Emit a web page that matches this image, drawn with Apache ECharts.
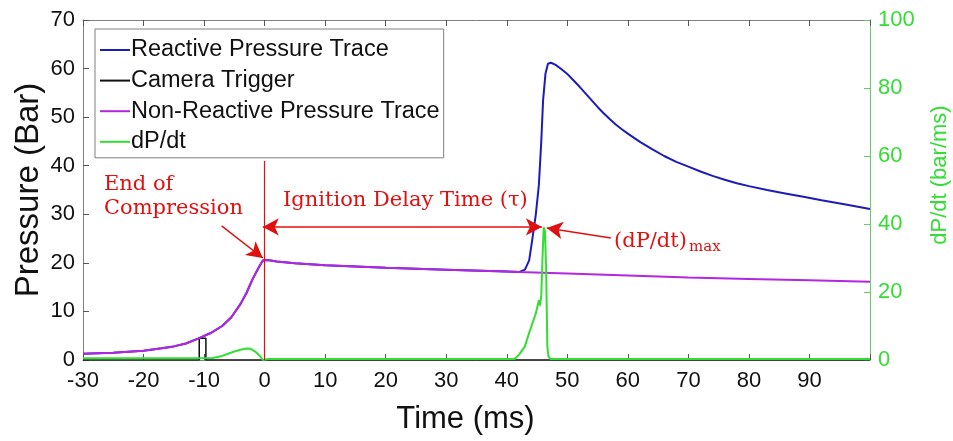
<!DOCTYPE html>
<html>
<head>
<meta charset="utf-8">
<script src="https://cdn.jsdelivr.net/npm/echarts@6/dist/echarts.min.js"></script>
<style>html,body{margin:0;padding:0;background:#fff;}#c{width:953px;height:441px;}</style>
</head>
<body>
<div id="c"></div>
<script>
// ---- data ----
var xTicks = [-30, -20, -10, 0, 10, 20, 30, 40, 50, 60, 70, 80, 90];
var leftTicks = [0, 10, 20, 30, 40, 50, 60, 70];
var rightTicks = [0, 20, 40, 60, 80, 100];

// shared compression stroke (both traces), time ms / pressure bar
var compT = [-30, -25, -20, -17, -15, -13, -11, -9, -7, -5.5, -4, -3, -2, -1, -0.3, 0.5, 2, 5, 10, 20, 30, 40, 42];
var compP = [1.3, 1.5, 1.9, 2.4, 2.8, 3.4, 4.4, 5.5, 7.0, 8.8, 11.5, 13.8, 16.6, 19.0, 20.5, 20.6, 20.3, 19.9, 19.5, 19.0, 18.6, 18.2, 18.1];

// reactive trace after ignition
var reactT = [43, 43.7, 44.2, 44.8, 45.3, 45.7, 46, 46.4, 46.8, 47.3, 48, 49, 50, 51, 52, 53, 54, 55, 56, 57, 58, 59, 60, 62, 64, 66, 68, 70, 72, 74, 76, 78, 80, 83, 86, 89, 92, 96, 100];
var reactP = [18.6, 20.5, 24.7, 30, 36, 45, 53.5, 59, 61.0, 61.2, 60.8, 59.9, 58.9, 57.6, 56.3, 54.9, 53.5, 52.1, 50.8, 49.6, 48.5, 47.5, 46.6, 44.9, 43.4, 42.0, 40.8, 39.8, 38.8, 37.9, 37.1, 36.4, 35.8, 35.0, 34.3, 33.6, 32.9, 32.0, 31.1];

// non-reactive trace after 42 ms
var nonReactT = [50, 60, 70, 80, 90, 100];
var nonReactP = [17.8, 17.4, 17.0, 16.7, 16.4, 16.1];

// camera trigger
var camT = [-30, -10.8, -10.8, -9.7, -9.7, 100];
var camV = [0, 0, 4.5, 4.5, 0, 0];

// dP/dt (bar/ms)
var dpT = [-30, -20, -12, -8.6, -7, -5.8, -5, -4, -3, -2.3, -1.5, -0.8, -0.3, 0.5, 20, 41.3, 42, 43, 43.7, 44.8, 45.3, 45.5, 45.7, 45.9, 46.1, 46.3, 46.5, 46.7, 46.9, 47.2, 100];
var dpV = [0.5, 0.5, 0.5, 0.6, 1.2, 2.0, 2.5, 3.0, 3.4, 3.3, 2.4, 1.2, 0, 0.3, 0.3, 0.3, 1.5, 4.0, 8.0, 13.7, 17.6, 16.0, 19.0, 30, 39, 38, 27, 4, 1, 0.3, 0.3];

function zip(a, b) { return a.map(function (v, i) { return [v, b[i]]; }); }
var reactive = zip(compT, compP).concat(zip(reactT, reactP));
var nonReactive = zip(compT, compP).concat(zip(nonReactT, nonReactP));
var camera = zip(camT, camV);
var dpdt = zip(dpT, dpV);

var RED = '#e01010';
var SANS = 'Liberation Sans, Arial, sans-serif';
var SERIF = 'DejaVu Serif, serif';
var redLine = {color: RED, width: 1.5, type: 'solid'};

var chart = echarts.init(document.getElementById('c'), null, {renderer: 'canvas'});
chart.setOption({
  animation: false,
  backgroundColor: '#fff',
  grid: {left: 83, right: 83, top: 20, bottom: 81, containLabel: false, outerBoundsMode: 'none'},
  legend: {
    orient: 'vertical', left: 95, top: 29,
    backgroundColor: '#fff', borderColor: '#808080', borderWidth: 1,
    padding: [9, 4, 4, 5],
    icon: 'rect', itemWidth: 30, itemHeight: 2, itemGap: 6.6,
    textStyle: {fontFamily: SANS, fontSize: 23.5, lineHeight: 22.5, color: '#111', padding: [0, 0, 0, -4]},
    data: ['Reactive Pressure Trace', 'Camera Trigger', 'Non-Reactive Pressure Trace', 'dP/dt']
  },
  xAxis: [{
    type: 'value', min: -30, max: 100, interval: 10,
    name: 'Time (ms)', nameLocation: 'middle', nameGap: 44,
    nameTextStyle: {fontFamily: SANS, fontSize: 31, color: '#111', padding: [0, 22, 0, 0]},
    axisLine: {onZero: false, lineStyle: {color: '#808080'}},
    axisTick: {inside: true, length: 6, lineStyle: {color: '#555'}},
    axisLabel: {fontFamily: SANS, fontSize: 22, color: '#111', margin: 10,
      formatter: function (v) { return xTicks.indexOf(v) >= 0 ? String(v) : ''; }},
    splitLine: {show: false}
  }, {
    type: 'value', min: -30, max: 100, interval: 10, position: 'top',
    axisLine: {onZero: false, lineStyle: {color: '#808080'}},
    axisTick: {inside: true, length: 6, lineStyle: {color: '#555'}},
    axisLabel: {show: false}, splitLine: {show: false}
  }],
  yAxis: [{
    type: 'value', min: 0, max: 70, interval: 10,
    name: 'Pressure (Bar)', nameLocation: 'middle', nameGap: 38, nameMoveOverlap: false,
    nameTextStyle: {fontFamily: SANS, fontSize: 33, color: '#111'},
    axisLine: {show: true, onZero: false, lineStyle: {color: '#808080'}},
    axisTick: {show: true, inside: true, length: 6, lineStyle: {color: '#555'}},
    axisLabel: {fontFamily: SANS, fontSize: 22, color: '#111', margin: 8,
      formatter: function (v) { return leftTicks.indexOf(v) >= 0 ? String(v) : ''; }},
    splitLine: {show: false}
  }, {
    type: 'value', min: 0, max: 100, interval: 20, position: 'right',
    name: 'dP/dt (bar/ms)', nameLocation: 'middle', nameGap: 59, nameRotate: 90,
    nameTextStyle: {fontFamily: SANS, fontSize: 22, color: '#33dd33', padding: [0, 0, 0, 30]},
    axisLine: {show: true, onZero: false, lineStyle: {color: '#66cc66'}},
    axisTick: {show: true, inside: true, length: 6, lineStyle: {color: '#66cc66'}},
    axisLabel: {fontFamily: SANS, fontSize: 22, color: '#33dd33', margin: 8,
      formatter: function (v) { return rightTicks.indexOf(v) >= 0 ? String(v) : ''; }},
    splitLine: {show: false}
  }],
  series: [{
    name: 'Reactive Pressure Trace', type: 'line', data: reactive, symbol: 'none',
    lineStyle: {color: '#1c1cb8', width: 2}, itemStyle: {color: '#1c1cb8'}
  }, {
    name: 'Camera Trigger', type: 'line', data: camera, symbol: 'none',
    lineStyle: {color: '#111', width: 1.5}, itemStyle: {color: '#111'}
  }, {
    name: 'Non-Reactive Pressure Trace', type: 'line', data: nonReactive, symbol: 'none',
    lineStyle: {color: '#b526e0', width: 2}, itemStyle: {color: '#b526e0'},
    markLine: {
      silent: true, animation: false,
      label: {show: false},
      lineStyle: redLine,
      itemStyle: {color: RED},
      emphasis: {disabled: true},
      data: [
        [{coord: [0, 0], symbol: 'none', lineStyle: {color: RED, width: 1.2}}, {coord: [0, 41], symbol: 'none'}],
        [{coord: [-0.3, 27.4], symbol: 'arrow', symbolSize: [13, 16], lineStyle: redLine, itemStyle: {color: RED}}, {coord: [45.8, 27.4], symbol: 'arrow', symbolSize: [13, 16]}],
        [{coord: [-7.1, 27.6], symbol: 'none', lineStyle: redLine, itemStyle: {color: RED}}, {coord: [-0.3, 21.0], symbol: 'arrow', symbolSize: [13, 16]}],
        [{coord: [57.2, 25.1], symbol: 'none', lineStyle: redLine, itemStyle: {color: RED}}, {coord: [46.6, 27.2], symbol: 'arrow', symbolSize: [13, 16]}]
      ]
    }
  }, {
    name: 'dP/dt', type: 'line', yAxisIndex: 1, data: dpdt, symbol: 'none',
    lineStyle: {color: '#33dd33', width: 2}, itemStyle: {color: '#33dd33'}
  }],
  graphic: [
    {type: 'text', left: 104, top: 174, style: {text: 'End of', font: '21px ' + SERIF, fill: RED}},
    {type: 'text', left: 104, top: 198, style: {text: 'Compression', font: '21px ' + SERIF, fill: RED}},
    {type: 'text', left: 283, top: 190, style: {text: 'Ignition Delay Time (τ)', font: '21px ' + SERIF, fill: RED}},
    {type: 'text', left: 614, top: 231, style: {text: '(dP/dt)', font: '21px ' + SERIF, fill: RED}},
    {type: 'text', left: 689, top: 240, style: {text: 'max', font: '15px ' + SERIF, fill: RED}}
  ]
});
</script>
</body>
</html>
